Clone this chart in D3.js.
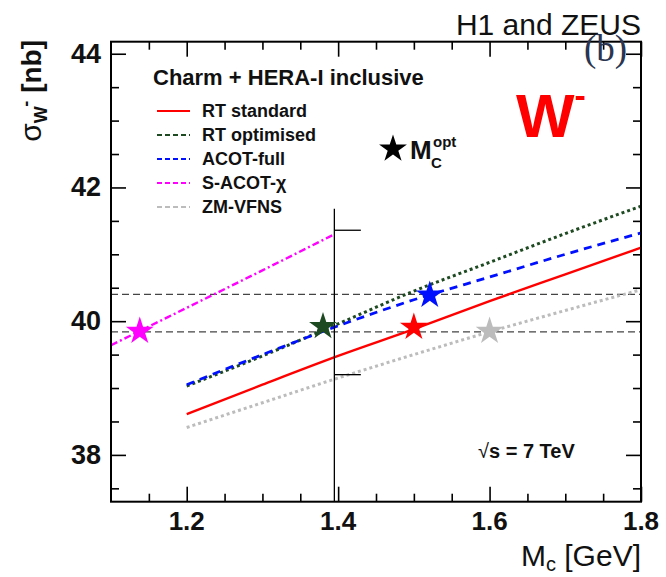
<!DOCTYPE html>
<html>
<head>
<meta charset="utf-8">
<script src="https://cdn.jsdelivr.net/npm/d3@7"></script>
<style>
  body { margin: 0; background: #fff; }
</style>
</head>
<body>
<div id="chart"></div>
<script>
// values
const massGrid = [1.2, 1.3, 1.4, 1.5, 1.6, 1.7, 1.8];
const rtStandard = [38.61, 39.05, 39.48, 39.88, 40.30, 40.70, 41.10];
const rtOptimised = [39.03, 39.48, 39.96, 40.45, 40.88, 41.31, 41.72];
const acotFull = [39.05, 39.50, 39.93, 40.32, 40.66, 41.00, 41.32];
const zmVfns = [38.41, 38.78, 39.15, 39.50, 39.84, 40.16, 40.47];
const sacotMass = [1.1, 1.2, 1.3, 1.395];
const sacotChi = [39.64, 40.20, 40.76, 41.30];

const schemes = ["RT standard", "RT optimised", "ACOT-full", "S-ACOT-\u03c7", "ZM-VFNS"];
const optMass = [1.5, 1.38, 1.521, 1.138, 1.6];
const optSigma = [39.91, 39.92, 40.39, 39.85, 39.85];

const bandLines = [39.84, 40.40];
const markMass = 1.395;
const markTop = 41.68;
const markTicks = [41.36, 39.2];

const xTicks = [1.2, 1.4, 1.6, 1.8];
const yTicks = [38, 40, 42, 44];

const W = 666, H = 577;
const sans = "Liberation Sans, Arial, sans-serif";
const x = d3.scaleLinear().domain([1.1, 1.8]).range([111, 641]);
const y = d3.scaleLinear().domain([37.3, 44.18]).range([501.7, 41.7]);

const svg = d3.select("#chart").append("svg")
  .attr("width", W).attr("height", H)
  .attr("font-family", sans);

const styles = [
  { color: "#ff0000", width: 2.4, dash: null },
  { color: "#1e4a22", width: 3, dash: "3,3" },
  { color: "#0010ff", width: 2.8, dash: "8,6" },
  { color: "#ff00ff", width: 2.4, dash: "7,3,2,3" },
  { color: "#bcbcbc", width: 3, dash: "3,3" }
];

// horizontal band lines
svg.append("g").selectAll("line")
  .data(bandLines)
  .join("line")
  .attr("x1", x(1.1)).attr("x2", x(1.8))
  .attr("y1", d => y(d)).attr("y2", d => y(d))
  .attr("stroke", "#444").attr("stroke-width", 1.2)
  .attr("stroke-dasharray", "7,4");

// curves
const line = d3.line().x(d => x(d[0])).y(d => y(d[1])).curve(d3.curveMonotoneX);
const series = [
  d3.zip(massGrid, rtStandard),
  d3.zip(massGrid, rtOptimised),
  d3.zip(massGrid, acotFull),
  d3.zip(sacotMass, sacotChi),
  d3.zip(massGrid, zmVfns)
];
const drawOrder = [4, 0, 1, 2, 3];
svg.append("g").selectAll("path")
  .data(drawOrder)
  .join("path")
  .attr("d", i => line(series[i]))
  .attr("fill", "none")
  .attr("stroke", i => styles[i].color)
  .attr("stroke-width", i => styles[i].width)
  .attr("stroke-dasharray", i => styles[i].dash);

// vertical marker with ticks
const mark = svg.append("g").attr("stroke", "#000").attr("stroke-width", 1.3);
mark.append("line")
  .attr("x1", x(markMass)).attr("x2", x(markMass))
  .attr("y1", y(markTop)).attr("y2", y(37.3));
mark.selectAll("line.t")
  .data(markTicks)
  .join("line").attr("class", "t")
  .attr("x1", x(markMass)).attr("x2", x(markMass + 0.035))
  .attr("y1", d => y(d)).attr("y2", d => y(d));

// stars
const star = d3.symbol().type(d3.symbolStar).size(240);
svg.append("g").selectAll("path")
  .data(d3.range(optMass.length))
  .join("path")
  .attr("d", star)
  .attr("transform", i => `translate(${x(optMass[i])},${y(optSigma[i])})`)
  .attr("fill", i => styles[i].color);

// frame and ticks
svg.append("rect")
  .attr("x", x(1.1)).attr("y", y(44.18))
  .attr("width", x(1.8) - x(1.1)).attr("height", y(37.3) - y(44.18))
  .attr("fill", "none").attr("stroke", "#000").attr("stroke-width", 2);

const xMinor = d3.range(1.15, 1.8, 0.05).filter(v => !xTicks.some(t => Math.abs(t - v) < 1e-6));
const yMinor = d3.range(37.5, 44.1, 0.5).filter(v => !yTicks.some(t => Math.abs(t - v) < 1e-6));

function tickAxis(axisFn, scale, vals, len, transform) {
  const g = svg.append("g").attr("transform", transform)
    .call(axisFn(scale).tickValues(vals).tickSize(-len).tickFormat(""));
  g.select(".domain").remove();
  g.selectAll("line").attr("stroke", "#000").attr("stroke-width", 1.6);
  return g;
}
tickAxis(d3.axisBottom, x, xTicks, 15, `translate(0,${y(37.3)})`);
tickAxis(d3.axisBottom, x, xMinor, 8, `translate(0,${y(37.3)})`);
tickAxis(d3.axisTop, x, xTicks, 15, `translate(0,${y(44.18)})`);
tickAxis(d3.axisTop, x, xMinor, 8, `translate(0,${y(44.18)})`);
tickAxis(d3.axisLeft, y, yTicks, 15, `translate(${x(1.1)},0)`);
tickAxis(d3.axisLeft, y, yMinor, 8, `translate(${x(1.1)},0)`);
tickAxis(d3.axisRight, y, yTicks, 15, `translate(${x(1.8)},0)`);
tickAxis(d3.axisRight, y, yMinor, 8, `translate(${x(1.8)},0)`);

// tick labels
svg.append("g").selectAll("text")
  .data(xTicks)
  .join("text")
  .attr("x", d => x(d)).attr("y", 530)
  .attr("text-anchor", "middle")
  .attr("font-size", 26).attr("font-weight", "bold").attr("fill", "#111")
  .text(d => d3.format(".1f")(d));
svg.append("g").selectAll("text")
  .data(yTicks)
  .join("text")
  .attr("x", 101).attr("y", d => y(d) + 9)
  .attr("text-anchor", "end")
  .attr("font-size", 27).attr("font-weight", "bold").attr("fill", "#111")
  .text(d => d);

// axis titles
const xt = svg.append("text")
  .attr("x", 641).attr("y", 566)
  .attr("text-anchor", "end")
  .attr("font-size", 30).attr("fill", "#111");
xt.append("tspan").text("M");
xt.append("tspan").attr("font-size", 20).attr("dy", 5).text("c");
xt.append("tspan").attr("dy", -5).text(" [GeV]");

const yt = svg.append("text")
  .attr("transform", "translate(41,40) rotate(-90)")
  .attr("text-anchor", "end")
  .attr("fill", "#111");
yt.append("tspan").attr("font-size", 30).text("\u03c3");
yt.append("tspan").attr("font-size", 18).attr("font-weight", "bold").attr("dy", 6).text("W");
yt.append("tspan").attr("font-size", 18).attr("font-weight", "bold").attr("dy", -15).text("-");
yt.append("tspan").attr("font-size", 28).attr("font-weight", "bold").attr("dy", 9).text(" [nb]");

// titles
svg.append("text")
  .attr("x", 641).attr("y", 35)
  .attr("text-anchor", "end")
  .attr("font-size", 30).attr("fill", "#111")
  .text("H1 and ZEUS");
svg.append("text")
  .attr("x", 584).attr("y", 61)
  .attr("font-family", "'Liberation Serif', 'DejaVu Serif', serif")
  .attr("font-size", 37).attr("fill", "#2a3550")
  .text("(b)");

const wm = svg.append("text")
  .attr("x", 516).attr("y", 137)
  .attr("fill", "#ff0000").attr("font-weight", "bold");
wm.append("tspan").attr("font-size", 62).text("W");
wm.append("tspan").attr("font-size", 34).attr("dy", -30).text("-");

svg.append("text")
  .attr("x", 153).attr("y", 85)
  .attr("font-size", 22).attr("font-weight", "bold").attr("fill", "#111")
  .text("Charm + HERA-I inclusive");

// legend
const rows = svg.append("g").selectAll("g")
  .data(d3.range(schemes.length))
  .join("g")
  .attr("transform", i => `translate(0,${117 + i * 24})`);
rows.append("line")
  .attr("x1", 157).attr("x2", 190)
  .attr("y1", -6).attr("y2", -6)
  .attr("stroke", i => styles[i].color)
  .attr("stroke-width", 1.8)
  .attr("stroke-dasharray", i => i === 0 ? null : "5,3");
rows.append("text")
  .attr("x", 202).attr("y", 0)
  .attr("font-size", 18).attr("font-weight", "bold").attr("fill", "#111")
  .text(i => schemes[i]);

svg.append("path")
  .attr("d", d3.symbol().type(d3.symbolStar).size(240)())
  .attr("transform", `translate(${393},${149})`)
  .attr("fill", "#000");
svg.append("text")
  .attr("x", 410).attr("y", 159)
  .attr("font-size", 26).attr("font-weight", "bold").attr("fill", "#111")
  .text("M");
svg.append("text")
  .attr("x", 431).attr("y", 168)
  .attr("font-size", 15).attr("font-weight", "bold").attr("fill", "#111")
  .text("C");
svg.append("text")
  .attr("x", 433).attr("y", 147)
  .attr("font-size", 15).attr("font-weight", "bold").attr("fill", "#111")
  .text("opt");

// energy label
const en = svg.append("text")
  .attr("x", 478).attr("y", 458)
  .attr("font-size", 20).attr("font-weight", "bold").attr("fill", "#111");
en.append("tspan").attr("font-weight", "normal").text("\u221a");
en.append("tspan").text("s = 7 TeV");
</script>
</body>
</html>
